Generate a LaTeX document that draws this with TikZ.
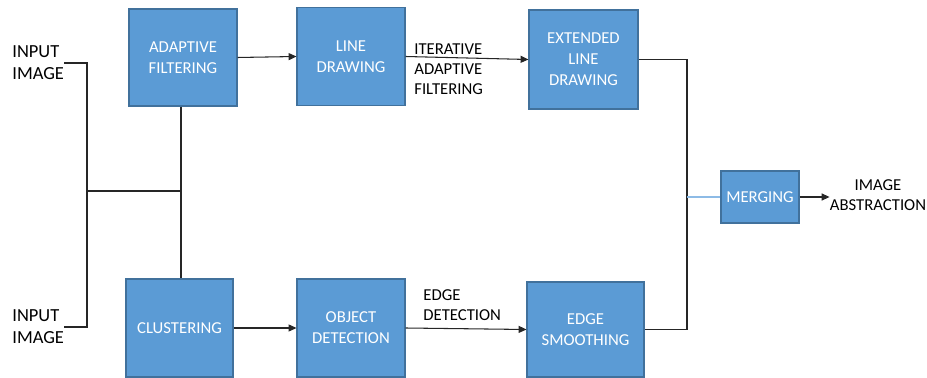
\documentclass[tikz,border=0pt]{standalone}
\usepackage{fontspec}
\setmainfont{Carlito}
\usetikzlibrary{arrows.meta}
\definecolor{boxBlue}{HTML}{5B9BD5}
\definecolor{boxEdge}{HTML}{41719C}
\definecolor{linkBlue}{HTML}{8DBBE6}

\begin{document}
\begin{tikzpicture}[x=0.02cm,y=-0.02cm,
  block/.style={fill=boxBlue,draw=boxEdge,line width=0.6pt,text=white,
    font=\fontsize{9.5}{12}\selectfont,align=center,inner sep=0pt},
  wire/.style={draw=black!85,line width=0.6pt},
  flow/.style={wire,-{Triangle[length=4.5pt,width=4pt]}},
  note/.style={font=\fontsize{9.5}{11.5}\selectfont,align=left,inner sep=0pt}]
  \useasboundingbox (0,0) rectangle (927,378);
  % Top row
  \node[block,minimum width=2.16cm,minimum height=1.94cm] (adapt) at (183,57.5) {ADAPTIVE\\FILTERING};
  \node[block,minimum width=2.16cm,minimum height=1.96cm] (line) at (351,56.5) {LINE\\DRAWING};
  \node[block,minimum width=2.18cm,minimum height=1.98cm] (ext) at (583.5,59.5) {EXTENDED\\LINE\\DRAWING};
  % Bottom row
  \node[block,minimum width=2.14cm,minimum height=1.96cm] (clust) at (179.5,328) {CLUSTERING};
  \node[block,minimum width=2.16cm,minimum height=1.96cm] (obj) at (351,328) {OBJECT\\DETECTION};
  \node[block,minimum width=2.34cm,minimum height=1.90cm] (smooth) at (585.5,329.5) {EDGE\\SMOOTHING};
  % Merge stage
  \node[block,minimum width=1.56cm,minimum height=1.04cm] (merge) at (760,197) {MERGING};
  % Plain labels
  \node[note,anchor=west,font=\fontsize{10.5}{12.5}\selectfont] (in1) at (12,63) {INPUT\\IMAGE};
  \node[note,anchor=west,font=\fontsize{10.5}{12.5}\selectfont] (in2) at (12,327) {INPUT\\IMAGE};
  \node[note,anchor=west] (iterLbl) at (414,69) {ITERATIVE\\ADAPTIVE\\FILTERING};
  \node[note,anchor=west] (edgeLbl) at (423,305) {EDGE\\DETECTION};
  \node[note,align=center] (out) at (878,195) {IMAGE\\ABSTRACTION};
  % Junctions
  \coordinate (joinL) at (87,191);
  \coordinate (joinM) at (181,191);
  \coordinate (busR) at (687,197);
  % Input wiring
  \draw[wire] (in1.east) -| (joinL) |- (in2.east);
  \draw[wire] (joinL) -- (joinM);
  \draw[wire] (adapt.south -| joinM) -- (clust.north -| joinM);
  % Flow arrows
  \draw[flow] (adapt.east) -- (line.west);
  \draw[flow] (line.east) -- (ext.west);
  \draw[flow] (clust.east) -- (obj.west);
  \draw[flow] (obj.east) -- (smooth.west);
  % Right bus into merging
  \draw[wire] (ext.east) -| (busR) |- (smooth.east);
  \draw[linkBlue,line width=0.6pt] (busR) -- (merge.west);
  \draw[flow] (merge.east) -- (merge.east -| out.west);
\end{tikzpicture}
\end{document}
